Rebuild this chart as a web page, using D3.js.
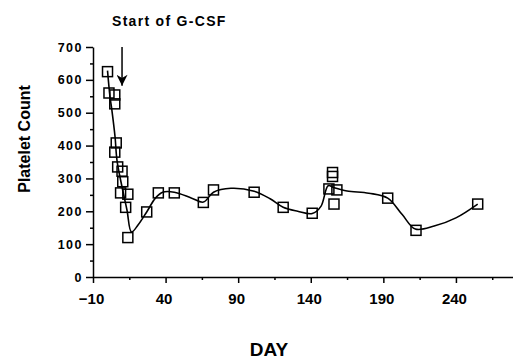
<!DOCTYPE html>
<html>
<head>
<meta charset="utf-8">
<script src="https://cdn.jsdelivr.net/npm/d3@7"></script>
<style>
  body { margin: 0; background: #fff; }
  svg { display: block; font-family: "Liberation Sans", Arial, sans-serif; }
  .axis path, .axis line { stroke: #000; stroke-width: 1.5; }
  .axis text { font-weight: bold; fill: #000; }
</style>
</head>
<body>
<svg id="chart" width="513" height="363"></svg>
<script>
// observed platelet counts (day, count)
const days   = [0, 1, 5, 5, 6, 5, 7, 10, 10.5, 9, 14, 12.5, 14, 27, 35, 46, 66, 73, 101, 121, 141, 155, 155, 152.5, 158, 156, 193, 212.5, 255];
const counts = [625, 560, 554, 527, 408, 380, 335, 322, 290, 256, 252, 212, 120, 198, 256, 256, 227, 265, 258, 212, 194, 318, 306, 268, 265, 222, 240, 142, 222];

// smoothed trend line
const fitDays   = [0, 1.7, 3, 5.2, 6.5, 10, 13.4, 16.5, 21, 27, 33, 38, 46, 58, 66, 73, 85, 101, 112, 121, 131, 141, 147, 152, 156, 165, 180, 193, 203, 212, 225, 240, 255];
const fitCounts = [628, 549, 508, 426, 356, 274, 204, 137, 158, 198, 240, 258, 258, 240, 228, 258, 270, 261, 238, 212, 200, 193, 215, 278, 272, 262, 255, 240, 190, 146, 155, 180, 222];

const xTicks = [-10, 40, 90, 140, 190, 240];
const yTicks = [0, 100, 200, 300, 400, 500, 600, 700];
const gcsfDay = 10;

const svg = d3.select('#chart');

const x = d3.scaleLinear().domain([-10, 280]).range([93, 514]);
const y = d3.scaleLinear().domain([0, 700]).range([277, 47]);

// minor ticks
svg.append('g')
  .attr('class', 'axis')
  .attr('transform', 'translate(0,277)')
  .call(d3.axisBottom(x).tickValues(d3.range(15, 280, 50)).tickSize(3).tickFormat(''))
  .select('.domain').remove();
svg.append('g')
  .attr('class', 'axis')
  .attr('transform', 'translate(93,0)')
  .call(d3.axisLeft(y).tickValues(d3.range(50, 700, 100)).tickSize(3).tickFormat(''))
  .select('.domain').remove();

let xAxis = svg.append('g')
  .attr('class', 'axis axis--x')
  .attr('transform', 'translate(0,277)')
  .call(d3.axisBottom(x).tickValues(xTicks).tickSize(6).tickSizeOuter(0).tickPadding(10));
xAxis.selectAll('text').style('font-size', '15px').attr('dx', '-2');

let yAxis = svg.append('g')
  .attr('class', 'axis axis--y')
  .attr('transform', 'translate(93,0)')
  .call(d3.axisLeft(y).tickValues(yTicks).tickSize(7).tickSizeOuter(0).tickPadding(3));
yAxis.selectAll('text').style('font-size', '12.5px').style('letter-spacing', '1.5px');

// trend line
let line = d3.line()
  .x(d => x(d[0]))
  .y(d => y(d[1]))
  .curve(d3.curveCatmullRom.alpha(0.5));

svg.append('path')
  .datum(d3.zip(fitDays, fitCounts))
  .attr('d', line)
  .attr('fill', 'none')
  .attr('stroke', '#000')
  .attr('stroke-width', 1.6);

// markers
const s = 10;
svg.append('g').selectAll('rect')
  .data(d3.zip(days, counts))
  .join('rect')
  .attr('x', d => x(d[0]) - s / 2)
  .attr('y', d => y(d[1]) - s / 2)
  .attr('width', s)
  .attr('height', s)
  .attr('fill', 'none')
  .attr('stroke', '#000')
  .attr('stroke-width', 1.5);

// G-CSF arrow
svg.append('defs').append('marker')
  .attr('id', 'head')
  .attr('viewBox', '0 0 10 10')
  .attr('refX', 10).attr('refY', 5)
  .attr('markerWidth', 13).attr('markerHeight', 11)
  .attr('markerUnits', 'userSpaceOnUse')
  .attr('orient', 'auto')
  .append('path')
  .attr('d', 'M0,0 L10,5 L0,10 L3,5 Z')
  .attr('fill', '#000');

svg.append('line')
  .attr('x1', x(gcsfDay)).attr('x2', x(gcsfDay))
  .attr('y1', y(700)).attr('y2', y(582))
  .attr('stroke', '#000')
  .attr('stroke-width', 1.5)
  .attr('marker-end', 'url(#head)');

svg.append('text')
  .attr('x', 112).attr('y', 26)
  .style('font-size', '14px').style('font-weight', 'bold').style('letter-spacing', '1.3px')
  .text('Start of G-CSF');

svg.append('text')
  .attr('transform', 'translate(30,139) rotate(-90)')
  .attr('text-anchor', 'middle')
  .style('font-size', '16px').style('font-weight', 'bold')
  .text('Platelet Count');

svg.append('text')
  .attr('x', 269).attr('y', 356)
  .attr('text-anchor', 'middle')
  .style('font-size', '19px').style('font-weight', 'bold')
  .text('DAY');
</script>
</body>
</html>
